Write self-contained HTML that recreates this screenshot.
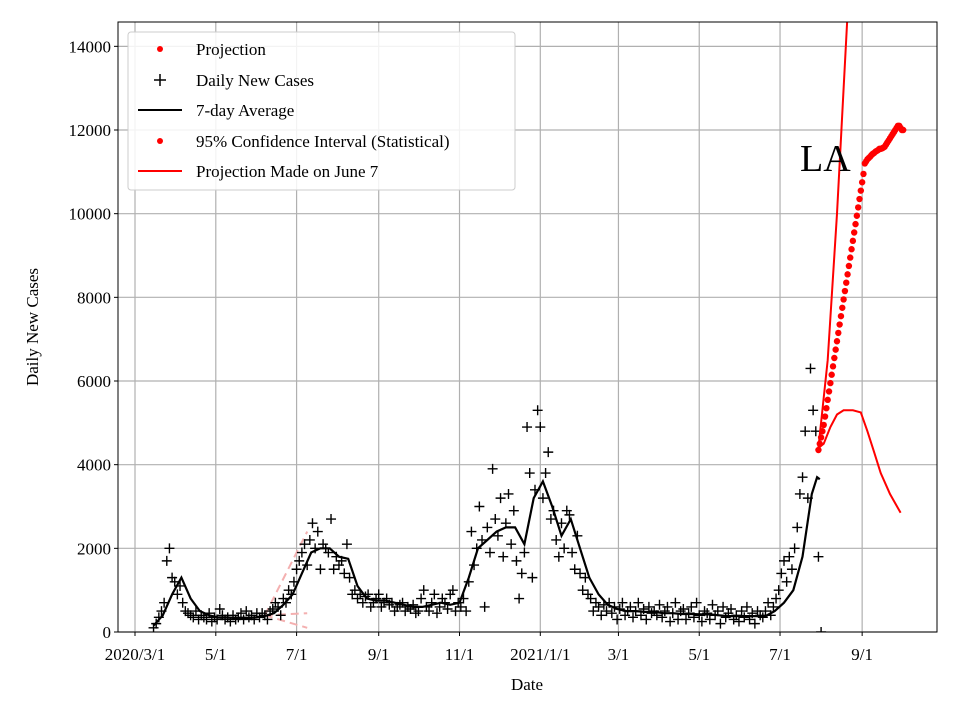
<!DOCTYPE html>
<html><head><meta charset="utf-8">
<style>
html,body{margin:0;padding:0;background:#fff;}
svg{display:block;font-family:"Liberation Serif",serif;}
</style></head>
<body>
<svg id="chart" width="960" height="720" viewBox="0 0 960 720" xmlns="http://www.w3.org/2000/svg">
<rect x="0" y="0" width="960" height="720" fill="#fff"/>
<g id="grid"></g>
<g id="plot"></g>
<rect x="118" y="22" width="819" height="610" fill="none" stroke="#000" stroke-width="1"/>
<g id="axes"></g>
<text x="800" y="171" font-size="38">LA</text>
<text x="527" y="690" font-size="17" text-anchor="middle">Date</text>
<text x="38" y="327" font-size="17" text-anchor="middle" transform="rotate(-90 38 327)">Daily New Cases</text>
<g>
<rect x="128" y="32" width="387" height="158" rx="3" fill="#fff" fill-opacity="0.85" stroke="#ccc"/>
<g><circle cx="160" cy="49" r="3" fill="red"/><text x="196" y="55" font-size="17">Projection</text></g>
<g><path d="M154 80h12M160 74v12" stroke="#000" stroke-width="1.5"/><text x="196" y="86" font-size="17">Daily New Cases</text></g>
<g><path d="M138 110h44" stroke="#000" stroke-width="2"/><text x="196" y="116" font-size="17">7-day Average</text></g>
<g><circle cx="160" cy="141" r="3" fill="red"/><text x="196" y="147" font-size="17">95% Confidence Interval (Statistical)</text></g>
<g><path d="M138 171h44" stroke="red" stroke-width="2"/><text x="196" y="177" font-size="17">Projection Made on June 7</text></g>
</g>
</svg>
<script>
// days since 2020-03-01
const yTicks=[0,2000,4000,6000,8000,10000,12000,14000];
const xTickDays=[0,61,122,184,245,306,365,426,487,549];
const xTickLabels=["2020/3/1","5/1","7/1","9/1","11/1","2021/1/1","3/1","5/1","7/1","9/1"];
const avgDays=[14,21,28,35,42,49,56,63,70,77,84,91,98,105,112,119,126,133,140,147,154,161,168,175,182,189,196,203,210,217,224,231,238,245,252,259,266,273,280,287,294,301,308,315,322,329,336,343,350,357,364,371,378,385,392,399,406,413,420,427,434,441,448,455,462,469,476,483,490,497,504,511,515,517];
const avgVals=[150,400,900,1300,800,500,400,350,350,330,330,350,380,450,650,900,1400,1900,2000,2000,1800,1750,1100,800,750,750,700,650,600,600,650,700,650,700,1300,2000,2200,2400,2500,2500,2100,3200,3600,3000,2300,2700,2000,1300,900,650,550,500,500,480,480,450,450,430,430,420,420,400,380,380,380,380,380,500,700,1000,1800,3300,3700,3650];
const dailyStart=14, dailyStep=2;
const dailyVals=[100,200,350,500,700,1700,2000,1300,1200,900,
1100,700,500,450,400,350,500,300,400,350,
300,450,250,350,300,550,400,300,350,250,
400,300,350,450,300,500,350,400,300,450,
350,450,400,300,500,550,700,600,400,800,
700,1000,900,1200,1500,1700,1900,2100,1600,2200,
2600,2000,2400,1500,2100,2000,1900,2700,1500,1800,
1600,1700,1400,2100,1300,900,1000,800,900,700,
850,900,600,700,800,900,600,700,800,650,
700,500,600,650,700,500,600,550,650,450,
500,800,1000,600,500,700,900,450,600,800,
700,550,900,1000,500,700,600,800,500,1200,
2400,1600,2000,3000,2200,600,2500,1900,3900,2700,
2300,3200,1800,2600,3300,2100,2900,1700,800,1400,
1900,4900,3800,1300,3400,5300,4900,3200,3800,4300,
2700,2900,2200,1800,2600,2000,2900,2800,1900,1500,
2300,1400,1000,1300,900,800,500,700,600,400,
650,500,700,450,600,300,550,700,400,500,
600,350,500,700,400,550,300,600,450,500,
400,650,350,500,600,250,450,700,300,500,
550,300,450,600,350,700,400,250,500,450,
300,650,400,500,200,600,350,450,550,300,
400,250,500,350,600,300,450,200,500,400,
350,500,700,400,600,800,1000,1400,1700,1200,
1800,1500,2000,2500,3300,3700,4800,3200,6300,5300,
4800,1800,0];
const projStart=516, projStep=1;
const projVals=[4350,4500,4650,4800,4950,5150,5350,5550,5750,5950,6150,6350,6550,6750,6950,7150,7350,7550,7750,7950,8150,8350,8550,8750,8950,9150,9350,9550,9750,9950,10150,10350,10550,10750,10950,11200,
11250,11300,11330,11360,11400,11430,11450,11480,11500,11520,11550,11550,11560,11580,11600,11650,11700,11750,11800,11850,11900,11950,12000,12050,12100,12100,12050,12000,12000];
const upperDays=[516,523,530,538,541];
const upperVals=[4400,6500,10000,14800,16000];
const lowerDays=[516,520,525,530,535,542,548,553,558,563,570,578];
const lowerVals=[4400,4500,4900,5200,5300,5300,5250,4800,4300,3800,3300,2850];
const oldDays=[98,130];
const oldUpper=[400,2400];
const oldMid=[400,450];
const oldLower=[400,100];

const X0=118,X1=937,Y0=632,Y1=22;
const xs=d=>135+d*1.3245;
const ys=v=>Y0-v*0.041833;
const NS="http://www.w3.org/2000/svg";
function mk(tag,attrs,parent){const e=document.createElementNS(NS,tag);for(const k in attrs)e.setAttribute(k,attrs[k]);parent.appendChild(e);return e;}
const grid=document.getElementById('grid'),plot=document.getElementById('plot'),axes=document.getElementById('axes');
const defs=mk('defs',{},plot);const cp=mk('clipPath',{id:'clip'},defs);mk('rect',{x:X0,y:Y1,width:X1-X0,height:Y0-Y1},cp);
plot.setAttribute('clip-path','url(#clip)');
yTicks.forEach(v=>{
 const g=mk('line',{x1:X0,x2:X1,y1:ys(v),y2:ys(v),stroke:'#b0b0b0','stroke-width':1.2},grid);
 
 
 const t=mk('line',{x1:X0-4,x2:X0,y1:ys(v),y2:ys(v),stroke:'#000'},axes);
 
 
 const l=mk('text',{x:X0-7,y:ys(v)+6,'font-size':17,'text-anchor':'end'},axes);l.textContent=v;
 
 
});
xTickDays.forEach((d,i)=>{
 const g=mk('line',{x1:xs(d),x2:xs(d),y1:Y1,y2:Y0,stroke:'#b0b0b0','stroke-width':1.2},grid);
 
 
 const t=mk('line',{x1:xs(d),x2:xs(d),y1:Y0,y2:Y0+4,stroke:'#000'},axes);
 
 
 const l=mk('text',{x:xs(d),y:Y0+28,'font-size':17,'text-anchor':'middle'},axes);l.textContent=xTickLabels[i];
 
 
});
function line(days,vals,attrs,name){
 const d=days.map((x,i)=>(i?'L':'M')+xs(x).toFixed(1)+' '+ys(vals[i]).toFixed(1)).join('');
 const p=mk('path',Object.assign({d:d,fill:'none'},attrs),plot);
 
 
}
const pk={stroke:'#f4b0b0','stroke-width':2,'stroke-dasharray':'8,5'};
line(oldDays,oldUpper,pk,'old-projection-upper');
line(oldDays,oldMid,pk,'old-projection-mid');
line(oldDays,oldLower,pk,'old-projection-lower');
dailyVals.forEach((v,i)=>{
 const x=xs(dailyStart+i*dailyStep),y=ys(v);
 const c=mk('path',{d:`M${x-5} ${y}h10M${x} ${y-5}v10`,stroke:'#000','stroke-width':1.4},plot);
 
 
});
line(avgDays,avgVals,{stroke:'#000','stroke-width':2.2},'seven-day-average-line');
line(upperDays,upperVals,{stroke:'red','stroke-width':2},'projection-upper-line');
line(lowerDays,lowerVals,{stroke:'red','stroke-width':2},'projection-lower-line');
projVals.forEach((v,i)=>{
 const c=mk('circle',{cx:xs(projStart+i*projStep),cy:ys(v),r:3.2,fill:'red'},plot);
 
 
});
</script>
</body></html>
